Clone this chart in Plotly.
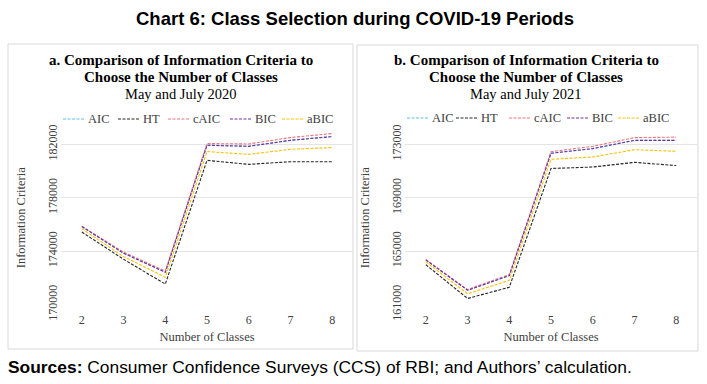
import plotly.graph_objects as go

classes = ["2", "3", "4", "5", "6", "7", "8"]

# Panel a: May and July 2020
a_AIC  = [175840, 173850, 172420, 181940, 181860, 182310, 182590]
a_HT   = [175430, 173390, 171530, 180800, 180500, 180700, 180700]
a_cAIC = [175860, 173920, 172510, 182060, 182030, 182510, 182810]
a_BIC  = [175840, 173840, 172410, 181930, 181850, 182300, 182580]
a_aBIC = [175680, 173590, 172040, 181460, 181250, 181630, 181760]

# Panel b: May and July 2021
b_AIC  = [164340, 162070, 163160, 172330, 172680, 173300, 173300]
b_HT   = [163980, 161450, 162290, 171190, 171300, 171650, 171410]
b_cAIC = [164360, 162120, 163240, 172450, 172850, 173500, 173540]
b_BIC  = [164340, 162070, 163160, 172330, 172680, 173300, 173300]
b_aBIC = [164200, 161800, 162810, 171880, 172050, 172600, 172480]

a_ticks = [170000, 174000, 178000, 182000]
b_ticks = [161000, 165000, 169000, 173000]

names = ["AIC", "HT", "cAIC", "BIC", "aBIC"]
colors = {"AIC": "#5BC3E8", "HT": "#262626", "cAIC": "#F2737C", "BIC": "#7030A0", "aBIC": "#FFC000"}

SERIF = "Liberation Serif"
SANS = "Liberation Sans"
TXT = "#404040"
DASH = "3px,1.5px"

fig = go.Figure()
panel_a = dict(zip(names, [a_AIC, a_HT, a_cAIC, a_BIC, a_aBIC]))
panel_b = dict(zip(names, [b_AIC, b_HT, b_cAIC, b_BIC, b_aBIC]))

for n in names:
    fig.add_trace(go.Scatter(x=classes, y=panel_a[n], name=n, mode="lines", showlegend=False,
                             line=dict(color=colors[n], width=1.1, dash=DASH),
                             xaxis="x", yaxis="y"))
for n in names:
    fig.add_trace(go.Scatter(x=classes, y=panel_b[n], name=n, mode="lines", showlegend=False,
                             line=dict(color=colors[n], width=1.1, dash=DASH),
                             xaxis="x2", yaxis="y2"))

W, H = 707, 384
def px(x): return x / W
def py(y): return 1 - y / H

axis_common = dict(showline=False, zeroline=False, ticks="", automargin=False)
xcommon = dict(axis_common, type="category", range=[-0.5, 6.5], showgrid=False,
               tickfont=dict(family=SERIF, size=12, color=TXT),
               ticklabelstandoff=6,
               title=dict(text="Number of Classes", font=dict(family=SERIF, size=12.5, color=TXT), standoff=6))
ycommon = dict(axis_common, showgrid=True, gridcolor="#E4E4E4", gridwidth=1, tickangle=-90,
               tickformat="d",
               tickfont=dict(family=SERIF, size=12, color=TXT),
               ticklabelstandoff=1,
               title=dict(text="Information Criteria", font=dict(family=SERIF, size=12.5, color=TXT), standoff=17))

fig.update_layout(
    width=W, height=H,
    margin=dict(l=0, r=0, t=0, b=0),
    paper_bgcolor="white", plot_bgcolor="white",
    xaxis=dict(xcommon, domain=[px(61), px(353)], anchor="y"),
    yaxis=dict(ycommon, domain=[py(304.5), py(131)], range=[170000, 183000], tickvals=a_ticks, anchor="x"),
    xaxis2=dict(xcommon, domain=[px(405), px(697)], anchor="y2"),
    yaxis2=dict(ycommon, domain=[py(304.5), py(131)], range=[161000, 174000], tickvals=b_ticks, anchor="x2"),
    showlegend=False,
)

# panel borders
fig.add_shape(type="rect", xref="paper", yref="paper", x0=px(8), x1=px(353), y0=py(349), y1=py(44),
              line=dict(color="#D9D9D9", width=1), layer="below")
fig.add_shape(type="rect", xref="paper", yref="paper", x0=px(357), x1=px(698), y0=py(351), y1=py(45),
              line=dict(color="#D9D9D9", width=1), layer="below")

ann = []
# custom legends (line sample start x, per entry), one per panel
legend_a_x = [63, 118, 168, 230, 282]
legend_b_x = [407, 456, 509, 567, 618]
for xs, ly in [(legend_a_x, 119), (legend_b_x, 118)]:
    for n, x0 in zip(names, xs):
        fig.add_shape(type="line", xref="paper", yref="paper", x0=px(x0), x1=px(x0 + 21),
                      y0=py(ly), y1=py(ly), line=dict(color=colors[n], width=1.1, dash=DASH))
        ann.append(dict(text=n, x=px(x0 + 23), y=py(ly), xanchor="left",
                        font=dict(family=SERIF, size=12.5, color=TXT)))

ann.append(dict(text="<b>Chart 6: Class Selection during COVID-19 Periods</b>", x=px(355), y=py(18),
                font=dict(family=SANS, size=18.5, color="black")))
for cx, yr in [(181, "2020"), (526, "2021")]:
    letter = "a" if yr == "2020" else "b"
    ann.append(dict(text=f"<b>{letter}. Comparison of Information Criteria to</b>", x=px(cx), y=py(60),
                    font=dict(family=SERIF, size=15, color="black")))
    ann.append(dict(text="<b>Choose the Number of Classes</b>", x=px(cx), y=py(77),
                    font=dict(family=SERIF, size=15, color="black")))
    ann.append(dict(text=f"May and July {yr}", x=px(cx), y=py(93.5),
                    font=dict(family=SERIF, size=14.5, color="black")))
ann.append(dict(text="<b>Sources:</b> Consumer Confidence Surveys (CCS) of RBI; and Authors’ calculation.",
                x=px(6), y=py(367), xanchor="left",
                font=dict(family=SANS, size=17.4, color="black")))
for a in ann:
    a.setdefault("xanchor", "center")
    a.update(xref="paper", yref="paper", yanchor="middle", showarrow=False)
    fig.add_annotation(**a)

fig.write_html("out.html", post_script="document.body.style.margin='0';",
               config={"displayModeBar": False})
